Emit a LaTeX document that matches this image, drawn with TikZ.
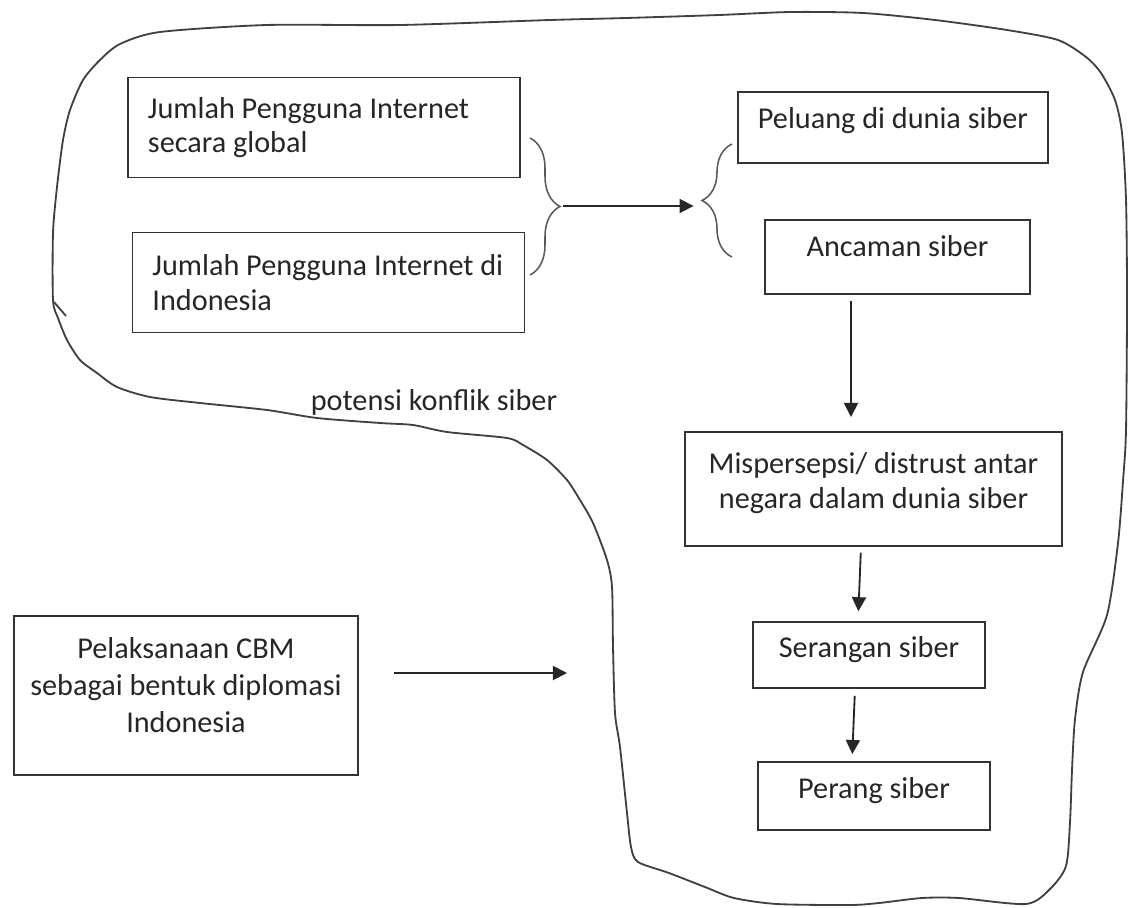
\documentclass[tikz,border=0pt]{standalone}
\usepackage{fontspec}
\setmainfont{Carlito}
\usetikzlibrary{arrows.meta,decorations.pathreplacing}

\begin{document}
\begin{tikzpicture}[x=0.025cm, y=-0.025cm,
        every node/.style={font=\fontsize{21.5}{24.5}\selectfont, text=black!85},
        kotak/.style={draw=black!80, line width=1.3pt, inner xsep=0.5cm, align=center},
        panah/.style={draw=black!85, line width=1.3pt, -{Triangle[length=10pt, width=10pt]}},
        kurung/.style={draw=black!65, line width=1.1pt, decorate, decoration={brace, amplitude=0.75cm}},
        garis/.style={draw=black!75, line width=1.3pt}]
    % Parameters
    \def\lebarKiri{9.8cm} % Width of the two left boxes
    \def\tinggiKiri{2.5cm} % Height of the two left boxes

    \useasboundingbox (0,0) rectangle (1128,907);

    % Draw the freehand outline
    \draw[garis] plot[smooth cycle, tension=0.45] coordinates {
            (160,32) (267,25) (400,25) (550,20) (626,18) (719,15) (791,12) (863,13)
            (935,20) (1007,30) (1058,40) (1086,57) (1101,73) (1115,100) (1122,133)
            (1126,200) (1127,300) (1126,430) (1123,481) (1118,543) (1107,615)
            (1083,672) (1075,719) (1072,770) (1070,822) (1066,866) (1050,889)
            (1026,904) (959,898) (922,898) (879,903) (850,905) (777,904) (734,898)
            (705,887) (669,873) (638,862) (631,847) (627,813) (620,747) (615,713)
            (613,647) (612,587) (607,560) (593,523) (580,500) (567,480) (547,460)
            (523,445) (507,438) (447,432) (413,425) (380,423) (317,418) (267,410)
            (200,403) (150,397) (117,387) (97,373) (80,360) (67,340) (58,318)
            (53,300) (53,233) (57,187) (63,140) (70,110) (83,80) (100,60) (120,44)};
    \draw[garis] (54,302) -- (66,316);

    % Boxes on the left
    \node[kotak, align=flush left, text width=8.8cm, minimum width=\lebarKiri, minimum height=\tinggiKiri]
        (jumlahGlobal) at (324,127.5) {Jumlah Pengguna Internet\\secara global};
    \node[kotak, align=flush left, text width=8.8cm, minimum width=\lebarKiri, minimum height=\tinggiKiri]
        (jumlahIndo) at (328.5,282.5) {Jumlah Pengguna Internet di\\Indonesia};
    \node[kotak, font=\fontsize{21.5}{26}\selectfont, inner xsep=0.2cm, text depth=15pt,
        minimum width=8.6cm, minimum height=3.975cm]
        (cbm) at (186,695.5) {Pelaksanaan CBM\\sebagai bentuk diplomasi\\Indonesia};

    % Boxes on the right
    \node[kotak, text depth=14pt, minimum width=7.75cm, minimum height=1.775cm] (peluang) at (893,127.5) {Peluang di dunia siber};
    \node[kotak, text depth=16pt, minimum width=6.625cm, minimum height=1.85cm] (ancaman) at (897.5,257) {Ancaman siber};
    \node[kotak, text depth=12pt, minimum width=9.425cm, minimum height=2.85cm] (mispersepsi) at (873.5,489)
        {Mispersepsi/ distrust antar\\negara dalam dunia siber};
    \node[kotak, text depth=11pt, minimum width=5.8cm, minimum height=1.65cm] (serangan) at (869,655) {Serangan siber};
    \node[kotak, text depth=11pt, minimum width=5.8cm, minimum height=1.7cm] (perang) at (874,796) {Perang siber};

    % Label of the outline
    \node (konflik) at (434,402) {potensi konflik siber};

    % Braces
    \draw[kurung] (530,138) -- (530,275);
    \draw[kurung] (732,257) -- (732,144);
    \coordinate (ujungKanan) at (560,206);
    \coordinate (ujungKiri) at (702,206);

    % Add arrows
    \draw[panah, shorten <=2pt, shorten >=6pt] (ujungKanan) -- (ujungKiri);
    \draw[panah, shorten <=4pt, shorten >=10pt] (ancaman.south -| 851,0) -- (mispersepsi.north -| 851,0);
    \draw[panah, shorten <=4pt, shorten >=7pt] (mispersepsi.south -| 861,0) -- (serangan.north -| 858,0);
    \draw[panah, shorten <=5pt, shorten >=5pt] (serangan.south -| 855,0) -- (perang.north -| 852,0);
    \coordinate (batasKonflik) at (567,673);
    \draw[panah, shorten <=0.875cm] (cbm.east |- batasKonflik) -- (batasKonflik);
\end{tikzpicture}
\end{document}
